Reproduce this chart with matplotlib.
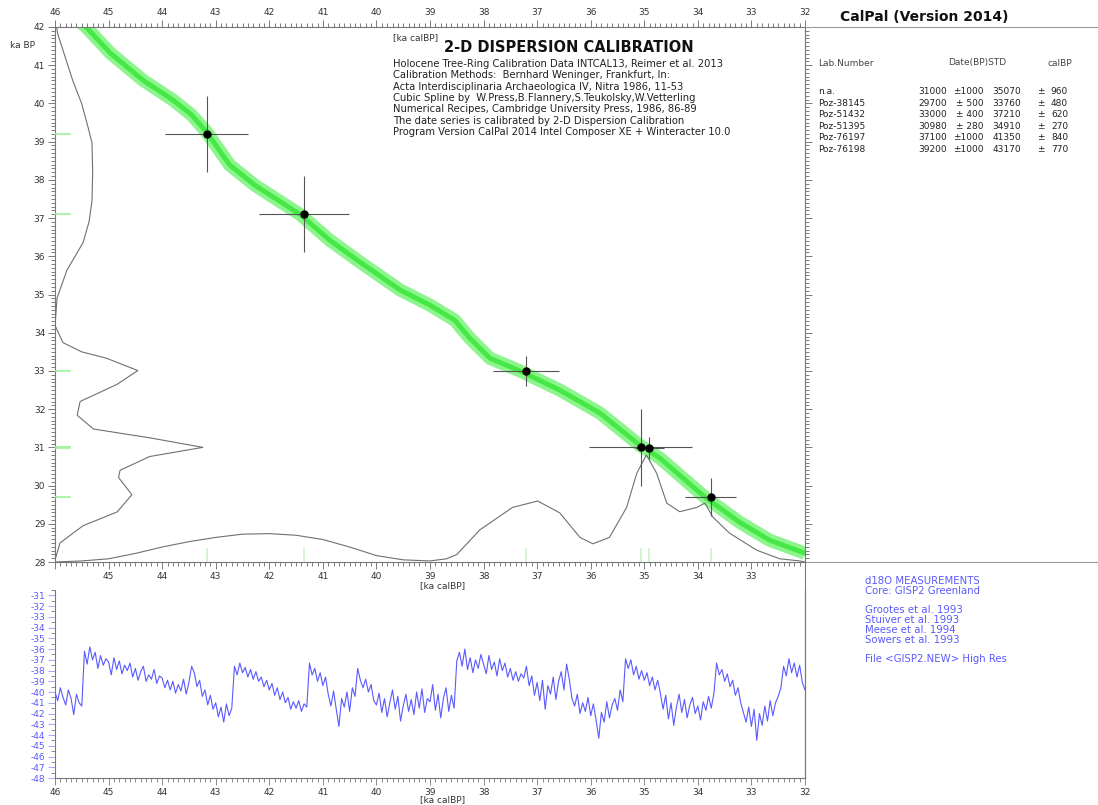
import numpy as np
import matplotlib
matplotlib.use('Agg')
import matplotlib.pyplot as plt
from matplotlib.ticker import MultipleLocator, FixedLocator, FuncFormatter
from matplotlib.lines import Line2D

plt.rcParams['font.family'] = ['DejaVu Sans']

# dates table (BP / calBP)
lab_ids = ['n.a.', 'Poz-38145', 'Poz-51432', 'Poz-51395', 'Poz-76197', 'Poz-76198']
bp = [31000, 29700, 33000, 30980, 37100, 39200]
bp_std = [1000, 500, 400, 280, 1000, 1000]
cal_bp = [35070, 33760, 37210, 34910, 41350, 43170]
cal_std = [960, 480, 620, 270, 840, 770]

# INTCAL13 curve (ka calBP, ka BP)
curve_cal = [45.55, 45.42, 44.97, 44.36, 43.80, 43.45, 43.17, 42.74, 42.27, 41.43, 40.87,
             40.31, 39.56, 39.00, 38.54, 38.26, 37.88, 37.32, 36.58, 35.83, 35.09,
             34.71, 34.34, 33.87, 33.22, 32.66, 32.00]
curve_bp = [42.15, 42.00, 41.32, 40.61, 40.09, 39.70, 39.25, 38.39, 37.86, 37.10, 36.42,
            35.85, 35.12, 34.72, 34.33, 33.86, 33.33, 33.00, 32.50, 31.90, 31.06,
            30.72, 30.27, 29.70, 29.04, 28.57, 28.23]

# summed 14C probability (left side, relative)
p14_bp = [42.0, 41.8, 41.2, 40.6, 40.0, 39.43, 38.97, 38.2, 37.44, 36.9, 36.36, 35.63,
          34.91, 34.19, 33.74, 33.5, 33.33, 33.01, 32.65, 32.2, 31.84, 31.48, 31.25,
          31.0, 30.76, 30.4, 30.21, 29.76, 29.31, 28.95, 28.5, 28.05]
p14_val = [0.01, 0.02, 0.07, 0.12, 0.18, 0.22, 0.25, 0.255, 0.25, 0.23, 0.19, 0.08,
           0.014, 0.0, 0.054, 0.18, 0.35, 0.56, 0.42, 0.17, 0.15, 0.26, 0.64,
           1.0, 0.64, 0.44, 0.43, 0.52, 0.42, 0.19, 0.034, 0.0]

# summed calendar probability (bottom, relative)
pcal_age = [46.0, 45.5, 45.0, 44.5, 44.0, 43.5, 43.0, 42.5, 42.0, 41.5, 41.0, 40.5, 40.0,
            39.5, 39.0, 38.69, 38.5, 38.07, 37.46, 36.99, 36.58, 36.2, 35.96, 35.65,
            35.33, 35.14, 34.96, 34.77, 34.58, 34.34, 34.02, 33.87, 33.72, 33.41,
            32.9, 32.47, 32.1, 32.0]
pcal_val = [0.0, 0.01, 0.03, 0.08, 0.14, 0.19, 0.23, 0.26, 0.265, 0.25, 0.21, 0.14, 0.06,
            0.02, 0.01, 0.03, 0.07, 0.30, 0.51, 0.57, 0.46, 0.23, 0.17, 0.23,
            0.51, 0.83, 1.0, 0.83, 0.55, 0.47, 0.51, 0.55, 0.42, 0.27,
            0.11, 0.03, 0.01, 0.0]

# GISP2 d18O, one value every 0.05 ka from 46.00 to 32.00
d18o_vals = [
    -40.0, -40.8, -39.6, -40.5, -41.2, -39.8, -40.6, -42.1, -40.2, -41.0,
    -41.3, -36.2, -37.4, -35.8, -37.0, -36.3, -37.8, -36.6, -37.5, -36.9,
    -37.2, -38.4, -36.8, -37.9, -37.1, -38.3, -37.5, -38.0, -37.3, -38.6,
    -37.8, -38.9, -38.1, -37.6, -39.0, -38.4, -38.8, -37.9, -39.2, -38.5,
    -38.7, -39.6, -38.9, -39.8, -39.0, -40.1, -39.3, -39.9, -38.8, -40.2,
    -39.1, -37.6, -38.2, -39.5, -38.9, -40.4, -39.8, -41.2, -40.3, -41.6,
    -41.0, -42.3, -41.4, -42.8, -41.1, -42.2, -41.5, -37.6, -38.4, -37.3,
    -38.2, -37.7, -38.6, -37.9, -38.8, -38.1, -39.0, -38.6, -39.5, -38.9,
    -39.8, -39.2, -40.3, -39.6, -40.7, -40.0, -41.0, -40.5, -41.6, -40.9,
    -41.5, -40.8, -41.8, -41.1, -41.4, -37.3, -38.4, -37.8, -39.0, -38.2,
    -39.4, -38.6, -40.2, -41.3, -39.9, -41.6, -43.2, -40.6, -41.4, -40.0,
    -41.8, -39.6, -40.4, -37.8, -38.9, -39.6, -38.8, -40.0, -39.3, -40.8,
    -41.2, -40.1, -41.9, -40.6, -42.3, -41.0, -39.8, -41.6, -40.4, -42.7,
    -41.3, -40.2, -41.8, -40.7, -42.1, -40.0, -41.5, -39.7, -41.9, -40.6,
    -40.9, -39.3, -41.7, -40.2, -42.4, -40.6, -39.6, -41.8, -40.3, -41.5,
    -37.1, -36.3, -37.6, -36.0, -37.9, -36.8, -38.2, -37.0, -37.8, -36.5,
    -37.4, -38.3, -36.6, -37.9, -37.2, -38.5, -36.9, -38.0, -37.3, -38.6,
    -37.8, -38.9, -38.1, -39.0, -38.3, -38.7, -37.6, -39.4, -38.5, -40.3,
    -39.1, -40.8, -38.9, -41.6, -39.4, -40.2, -38.6, -40.7, -39.0, -38.1,
    -39.8, -37.4, -38.8, -40.6, -41.3, -40.2, -42.0, -41.0, -41.8, -40.5,
    -42.2, -41.1, -42.6, -44.3, -41.9, -42.8, -40.9, -42.4, -41.2, -40.6,
    -41.7, -39.8, -40.9, -36.9, -37.8, -37.0, -38.4, -37.6, -38.8, -38.0,
    -38.9, -38.2, -39.4, -38.6, -39.8, -38.9, -40.1, -41.6, -40.3, -42.5,
    -41.0, -43.1, -41.4, -40.2, -41.9, -40.7, -42.4, -41.2, -40.5, -42.0,
    -41.3, -42.6, -40.9, -41.7, -40.4, -41.5, -40.1, -37.3, -38.4, -37.9,
    -39.0, -38.3, -39.5, -38.9, -40.3, -39.6, -41.0, -41.9, -42.8, -41.4,
    -43.2, -41.6, -44.5, -42.0, -43.1, -41.3, -42.7, -40.8, -42.2, -41.0,
    -40.4, -39.6, -37.6, -38.5, -36.9, -38.2, -37.3, -38.6, -37.5, -39.1,
    -39.8]
d18o_age = np.round(46.0 - 0.05 * np.arange(len(d18o_vals)), 2)

info_lines = [
    'Holocene Tree-Ring Calibration Data INTCAL13, Reimer et al. 2013',
    'Calibration Methods:  Bernhard Weninger, Frankfurt, In:',
    'Acta Interdisciplinaria Archaeologica IV, Nitra 1986, 11-53',
    'Cubic Spline by  W.Press,B.Flannery,S.Teukolsky,W.Vetterling',
    'Numerical Recipes, Cambridge University Press, 1986, 86-89',
    'The date series is calibrated by 2-D Dispersion Calibration',
    'Program Version CalPal 2014 Intel Composer XE + Winteracter 10.0',
]
gisp_lines = ['d18O MEASUREMENTS', 'Core: GISP2 Greenland', '',
              'Grootes et al. 1993', 'Stuiver et al. 1993', 'Meese et al. 1994',
              'Sowers et al. 1993', '', 'File <GISP2.NEW> High Res']

W, H = 1098, 805
fig = plt.figure(figsize=(W / 100, H / 100), dpi=100)


def fx(x):
    return x / W


def fy(y):
    return 1 - y / H


tick_col = '#333333'
blue = '#5a5aff'

# ---------------- top panel ----------------
ax = fig.add_axes([fx(55), fy(562), fx(805) - fx(55), fy(27) - fy(562)])
ax.set_xlim(46, 32)
ax.set_ylim(28, 42)

ax.plot(curve_cal, curve_bp, color='#8ef58e', lw=9.5, solid_capstyle='butt', zorder=2)
ax.plot(curve_cal, curve_bp, color='#45e845', lw=3.5, zorder=2)

p14_scale = 2.76
ax.plot([46 - v * p14_scale for v in p14_val], p14_bp, color='#707070', lw=0.8, zorder=3)
pcal_scale = 2.8
ax.plot(pcal_age, [28 + v * pcal_scale for v in pcal_val], color='#707070', lw=0.8, zorder=3)

cal_k = [c / 1000 for c in cal_bp]
bp_k = [b / 1000 for b in bp]
ax.errorbar(cal_k, bp_k, xerr=[s / 1000 for s in cal_std], yerr=[s / 1000 for s in bp_std],
            fmt='o', color='black', ms=5, ecolor='#555555', elinewidth=0.8, capsize=0, zorder=5)

# light green date markers on the axes
for c, b in zip(cal_k, bp_k):
    ax.plot([46, 45.72], [b, b], color='#9df29d', lw=1.2, zorder=4)
    ax.plot([c, c], [28, 28.35], color='#c8f5c8', lw=1.2, zorder=4)

ax.xaxis.set_major_locator(MultipleLocator(1))
ax.xaxis.set_minor_locator(MultipleLocator(0.1))
# no 46 / 32 on the lower edge of the top panel
ax.xaxis.set_major_formatter(FuncFormatter(lambda v, p: '' if round(v) in (46, 32) else f'{v:.0f}'))
ax.yaxis.set_major_locator(MultipleLocator(1))
ax.yaxis.set_minor_locator(MultipleLocator(0.1))
ax.yaxis.set_major_formatter(FuncFormatter(lambda v, p: f'{v:.0f}'))
ax.tick_params(which='both', direction='out', colors='#666666', labelcolor=tick_col,
               labelsize=6.5, width=0.6, right=True)
ax.tick_params(which='major', length=5, pad=2)
ax.tick_params(which='minor', length=3)
for s in ax.spines.values():
    s.set_color('#777777')
    s.set_linewidth(0.8)

axt = ax.twiny()
axt.set_xlim(46, 32)
axt.xaxis.set_major_locator(MultipleLocator(1))
axt.xaxis.set_minor_locator(MultipleLocator(0.1))
axt.xaxis.set_major_formatter(FuncFormatter(lambda v, p: f'{v:.0f}'))
axt.tick_params(which='both', direction='out', colors='#666666', labelcolor=tick_col,
                labelsize=6.5, width=0.6)
axt.tick_params(which='major', length=5, pad=2)
axt.tick_params(which='minor', length=3)
for s in axt.spines.values():
    s.set_visible(False)

# ---------------- lower panel ----------------
ax2 = fig.add_axes([fx(55), fy(778), fx(805) - fx(55), fy(590) - fy(778)])
ax2.set_xlim(46, 32)
ax2.set_ylim(-48, -30.5)
ax2.plot(d18o_age, d18o_vals, color=blue, lw=0.8)
ax2.xaxis.set_major_locator(MultipleLocator(1))
ax2.xaxis.set_minor_locator(MultipleLocator(0.1))
ax2.xaxis.set_major_formatter(FuncFormatter(lambda v, p: f'{v:.0f}'))
ax2.yaxis.set_major_locator(FixedLocator(list(range(-48, -30))))
ax2.yaxis.set_minor_locator(MultipleLocator(0.5))
ax2.yaxis.set_major_formatter(FuncFormatter(lambda v, p: f'{v:.0f}'))
ax2.tick_params(which='both', direction='out', colors='#777777', labelsize=6.5, width=0.6)
ax2.tick_params(axis='x', labelcolor=tick_col)
ax2.tick_params(axis='y', labelcolor=blue, colors='#9a9aff')
ax2.tick_params(which='major', length=5, pad=2)
ax2.tick_params(which='minor', length=3)
ax2.spines['top'].set_visible(False)
for s in ax2.spines.values():
    s.set_color('#777777')
    s.set_linewidth(0.8)

# frame lines on the right
fig.add_artist(Line2D([fx(805), fx(W)], [fy(27), fy(27)], color='#999999', lw=0.8))
fig.add_artist(Line2D([fx(805), fx(W)], [fy(562), fy(562)], color='#999999', lw=0.8))
fig.add_artist(Line2D([fx(805), fx(805)], [fy(562), fy(778)], color='#777777', lw=0.8))

# ---------------- texts ----------------
fig.text(fx(10), fy(45), 'ka BP', fontsize=6.5, color=tick_col, va='center')
fig.text(fx(393), fy(38), '[ka calBP]', fontsize=6.5, color=tick_col, va='center')
fig.text(fx(420), fy(586), '[ka calBP]', fontsize=6.5, color=tick_col, va='center')
fig.text(fx(420), fy(800), '[ka calBP]', fontsize=6.5, color=tick_col, va='center')
fig.text(fx(569), fy(48), '2-D DISPERSION CALIBRATION', fontsize=10.5, fontweight='bold',
         ha='center', va='center', color='#111111')
for i, line in enumerate(info_lines):
    fig.text(fx(393), fy(64 + i * 11.3), line, fontsize=7.2, color='#222222', va='center')

fig.text(fx(840), fy(17), 'CalPal (Version 2014)', fontsize=10, fontweight='bold',
         va='center', color='#111111')
fig.text(fx(818), fy(63), 'Lab.Number', fontsize=6.5, color='#444444', va='center')
fig.text(fx(948), fy(63), 'Date(BP)STD', fontsize=6.5, color='#444444', va='center')
fig.text(fx(1048), fy(63), 'calBP', fontsize=6.5, color='#444444', va='center')
for i in range(len(lab_ids)):
    yy = fy(92 + i * 11.4)
    fig.text(fx(818), yy, lab_ids[i], fontsize=6.5, color='#222222', va='center')
    fig.text(fx(947), yy, f'{bp[i]}', fontsize=6.5, color='#222222', va='center', ha='right')
    fig.text(fx(984), yy, f'±{bp_std[i]:>4}' if bp_std[i] >= 1000 else f'± {bp_std[i]}',
             fontsize=6.5, color='#222222', va='center', ha='right')
    fig.text(fx(1021), yy, f'{cal_bp[i]}', fontsize=6.5, color='#222222', va='center', ha='right')
    fig.text(fx(1037), yy, '±', fontsize=6.5, color='#222222', va='center')
    fig.text(fx(1068), yy, f'{cal_std[i]}', fontsize=6.5, color='#222222', va='center', ha='right')

gy = 581
for line in gisp_lines:
    if line:
        fig.text(fx(865), fy(gy), line, fontsize=7.3, color=blue, va='center')
    gy += 10 if line else 9

fig.savefig('out.png', dpi=100)
